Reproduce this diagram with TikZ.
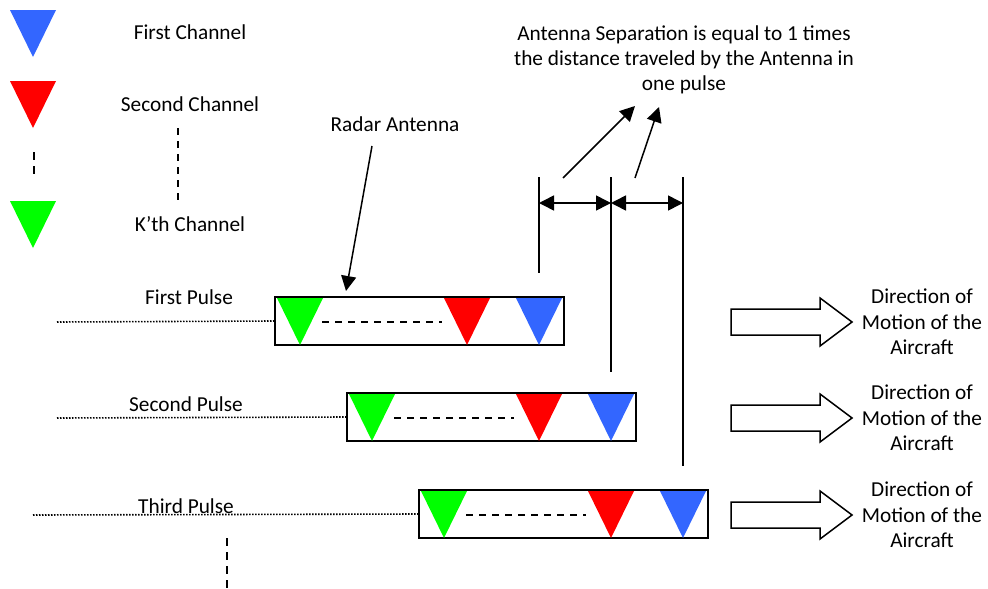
\documentclass[tikz,border=0pt]{standalone}
\usepackage{fontspec}
\setmainfont{Carlito}
\usetikzlibrary{arrows.meta}
\definecolor{chblue}{HTML}{3366FF}
\definecolor{chred}{HTML}{FF0000}
\definecolor{chgreen}{HTML}{00FF00}
\begin{document}
\begin{tikzpicture}[x=1pt,y=-1pt,
  lbl/.style={inner sep=0pt,font=\fontsize{21.3}{25.3}\selectfont,align=center},
  antbox/.style={draw,line width=2pt,minimum width=289pt,minimum height=48pt,inner sep=0pt},
  trace/.style={line width=1.6pt,dash pattern=on 1.5pt off 1.5pt},
  gap/.style={dashed,line width=1.4pt,dash pattern=on 7pt off 6pt},
  mark line/.style={line width=1.4pt},
  span/.style={line width=1.6pt,{Triangle[length=15pt,width=15pt]}-{Triangle[length=15pt,width=15pt]}},
  pointer/.style={line width=1.5pt,-{Triangle[length=15pt,width=15pt]}},
  motion/.style={draw,line width=1.5pt,fill=white}]
\useasboundingbox (0,0) rectangle (988,589);

% channel triangle: apex down, #1 = left x, #2 = top y, #3 = colour
\newcommand{\chtri}[3]{\fill[#3] (#1,#2) -- ++(46,0) -- ++(-23,47) -- cycle;}

% legend
\chtri{10}{10}{chblue}
\chtri{10}{81}{chred}
\chtri{10}{201}{chgreen}
\draw[gap,dash pattern=on 8pt off 6pt] (34,152) -- (34,174);
\node[lbl] (l1) at (190,32) {First Channel};
\node[lbl] (l2) at (190,104) {Second Channel};
\node[lbl] (l3) at (190,224) {K’th Channel};
\draw[gap] (178,128) -- (178,200);

% antenna at three pulses
\foreach \i/\dx/\dy in {1/0/0,2/72/96,3/144/193}{
  \node[antbox] (b\i) at (419.5+\dx,321+\dy) {};
  \chtri{277+\dx}{298+\dy}{chgreen}
  \chtri{444+\dx}{298+\dy}{chred}
  \chtri{516+\dx}{298+\dy}{chblue}
  \draw[gap] (322+\dx,322+\dy) -- (442+\dx,322+\dy);
}

% pulse labels and trailing tracks
\coordinate (t1) at (57,322);
\coordinate (t2) at (57,418);
\coordinate (t3) at (33,515);
\draw[trace] (t1) -- (b1.west);
\draw[trace] (t2) -- (b2.west);
\draw[trace] (t3) -- (b3.west);
\node[lbl] (p1) at (189,297) {First Pulse};
\node[lbl] (p2) at (186,404) {Second Pulse};
\node[lbl] (p3) at (186,506) {Third Pulse};
\draw[gap,dash pattern=on 8pt off 6pt] (227,538) -- (227,589);

% radar antenna pointer
\node[lbl] (ra) at (395,124) {Radar Antenna};
\coordinate (raend) at (346,291);
\draw[pointer] (372,146) -- (raend);

% antenna separation markers
\coordinate (m1t) at (539,177);
\coordinate (m1b) at (539,273);
\coordinate (m2t) at (611,177);
\coordinate (m2b) at (611,372);
\coordinate (m3t) at (683,177);
\coordinate (m3b) at (683,466);
\draw[mark line] (m1t) -- (m1b);
\draw[mark line] (m2t) -- (m2b);
\draw[mark line] (m3t) -- (m3b);
\coordinate (s1a) at (539,203);
\coordinate (s1b) at (611,203);
\coordinate (s2b) at (683,203);
\draw[span] (s1a) -- (s1b);
\draw[span] (s1b) -- (s2b);

\node[lbl] (sep) at (684,60) {Antenna Separation is equal to 1 times\\the distance traveled by the Antenna in\\one pulse};
\coordinate (q1) at (563,178);
\coordinate (q1e) at (635,106);
\coordinate (q2) at (635,178);
\coordinate (q2e) at (659,107);
\draw[pointer] (q1) -- (q1e);
\draw[pointer] (q2) -- (q2e);

% direction of motion
\foreach \i/\y in {1/322,2/418,3/515}{
  \draw[motion] (731,\y-13) -- (820,\y-13) -- (820,\y-24) -- (852,\y)
     -- (820,\y+24) -- (820,\y+13) -- (731,\y+13) -- cycle;
  \node[lbl] (d\i) at (922,\y) {Direction of\\Motion of the\\Aircraft};
}
\end{tikzpicture}
\end{document}
